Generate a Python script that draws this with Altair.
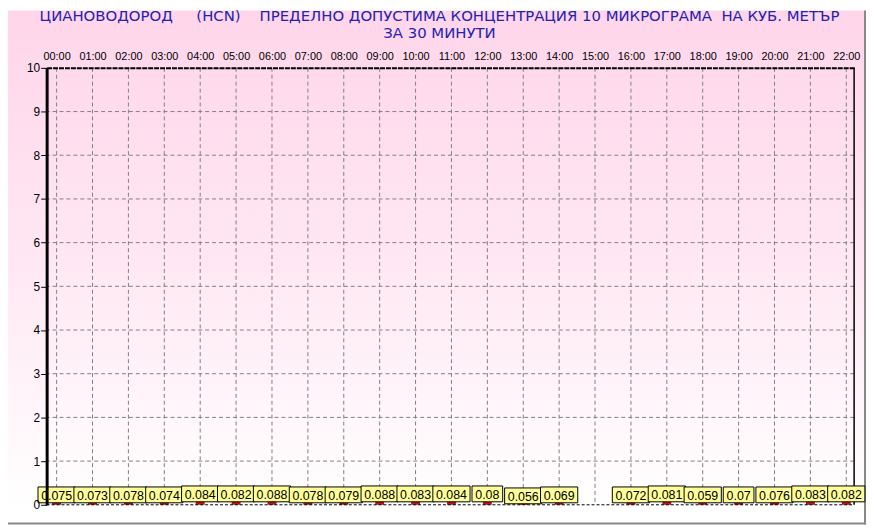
import altair as alt
import pandas as pd

# ---- data ----
hours = ["00:00", "01:00", "02:00", "03:00", "04:00", "05:00", "06:00", "07:00",
         "08:00", "09:00", "10:00", "11:00", "12:00", "13:00", "14:00", "15:00",
         "16:00", "17:00", "18:00", "19:00", "20:00", "21:00", "22:00"]
values = [0.075, 0.073, 0.078, 0.074, 0.084, 0.082, 0.088, 0.078, 0.079, 0.088,
          0.083, 0.084, 0.08, 0.056, 0.069, None, 0.072, 0.081, 0.059, 0.07,
          0.076, 0.083, 0.082]
y_ticks = list(range(0, 11))
grid_y = list(range(1, 10))

NB = "\u00a0"
title_lines = ["ЦИАНОВОДОРОД" + NB * 5 + "(HCN)" + NB * 4 +
               "ПРЕДЕЛНО ДОПУСТИМА КОНЦЕНТРАЦИЯ 10 МИКРОГРАМА" + NB * 2 + "НА КУБ. МЕТЪР",
               "ЗА 30 МИНУТИ"]

W, H = 815, 441
PAD_L, PAD_T, PAD_R, PAD_B = 39, 58, 12, 20
PX_PER_UNIT = H / 10.0
STEP = W / 22.22

df = pd.DataFrame({"idx": list(range(len(hours))), "hour": hours, "value": values})
df = df.dropna().copy()
df["label"] = [str(v) for v in df["value"]]

x_scale = alt.Scale(domain=[-0.14, 22.08], nice=False, zero=False)
y_scale = alt.Scale(domain=[0, 10], nice=False)

x_axis = alt.Axis(orient="top", values=list(range(len(hours))),
                  labelExpr="(datum.value < 10 ? '0' : '') + datum.value + ':00'",
                  title=None, grid=False, ticks=False, labelPadding=6,
                  labelOverlap=False, labelFlush=False,
                  labelFontSize=11, labelColor="#000000", labelFont="Liberation Sans",
                  domainColor="#000000", domainWidth=2, domainDash=[5, 1], zindex=1)
y_axis = alt.Axis(values=y_ticks, title=None, grid=False, tickSize=6,
                  tickColor="#000000", labelPadding=1, labelFontSize=12,
                  labelOverlap=False, labelFlush=False,
                  labelColor="#000000", labelFont="Liberation Sans",
                  domainColor="#000000", domainWidth=3, zindex=1)

one = pd.DataFrame({"a": [0]})

# background gradient (decoration, spans whole chart)
bg = alt.Chart(one).mark_rect(
    clip=False,
    fill=alt.Gradient(
        gradient="linear",
        stops=[alt.GradientStop(color="#ffd5ea", offset=0),
               alt.GradientStop(color="#ffe8f3", offset=0.5),
               alt.GradientStop(color="#ffffff", offset=0.97)],
        x1=0, x2=0, y1=0, y2=1),
).encode(
    x=alt.value(-PAD_L), x2=alt.value(W + PAD_R),
    y=alt.value(-PAD_T), y2=alt.value(H + PAD_B),
)

border_r = alt.Chart(one).mark_rule(clip=False, color="#888888", strokeWidth=2).encode(
    x=alt.value(W + PAD_R - 1), y=alt.value(-PAD_T), y2=alt.value(H + PAD_B))
border_b = alt.Chart(one).mark_rule(clip=False, color="#888888", strokeWidth=2).encode(
    y=alt.value(H + PAD_B - 1), x=alt.value(-PAD_L), x2=alt.value(W + PAD_R))

# plot frame: right side solid, bottom dashed
frame_r = alt.Chart(one).mark_rule(clip=False, color="#000000", strokeWidth=1.5).encode(
    x=alt.value(W), y=alt.value(0), y2=alt.value(H))
frame_b = alt.Chart(one).mark_rule(clip=False, color="#000000", strokeWidth=1,
                                   strokeDash=[3, 2]).encode(
    y=alt.value(H), x=alt.value(0), x2=alt.value(W))

# grid lines
vgrid = alt.Chart(pd.DataFrame({"g": list(range(len(hours)))})).mark_rule(
    color="#808080", strokeDash=[4, 3], strokeWidth=1
).encode(x=alt.X("g:Q", scale=x_scale, axis=x_axis))
hgrid = alt.Chart(pd.DataFrame({"g": grid_y})).mark_rule(
    color="#808080", strokeDash=[4, 3], strokeWidth=1
).encode(y=alt.Y("g:Q", scale=y_scale, axis=y_axis))

base = alt.Chart(df)

bars = base.mark_bar(color="#b81818", size=9).encode(
    x=alt.X("idx:Q", scale=x_scale, axis=x_axis),
    y=alt.Y("value:Q", scale=y_scale, axis=y_axis),
)

boxes_src = base.transform_calculate(
    hw=f"((length(datum.label) - 1) * 6.67 + 3.34 + 8) / 2 / {STEP}",
    lo=f"(round(datum.value * {PX_PER_UNIT}) - 1) / {PX_PER_UNIT}",
).transform_calculate(
    x1="datum.idx - datum.hw", x2="datum.idx + datum.hw",
    hi=f"datum.lo + 16 / {PX_PER_UNIT}",
).transform_calculate(mid="(datum.lo + datum.hi) / 2")

boxes = boxes_src.mark_rect(fill="#ffff99", stroke="#000000", strokeWidth=1, clip=False).encode(
    x=alt.X("x1:Q", scale=x_scale, axis=x_axis), x2="x2:Q",
    y=alt.Y("lo:Q", scale=y_scale, axis=y_axis), y2="hi:Q",
)
texts = boxes_src.mark_text(fontSize=12.5, font="Liberation Sans", color="#000000",
                            baseline="middle", align="center", dy=1, clip=False).encode(
    x=alt.X("idx:Q", scale=x_scale, axis=x_axis),
    y=alt.Y("mid:Q", scale=y_scale, axis=y_axis),
    text="label:N",
)

chart = alt.layer(bg, border_r, border_b, vgrid, hgrid, bars, frame_r, frame_b,
                  boxes, texts).properties(
    width=W, height=H,
    autosize=alt.AutoSizeParams(type="none"),
    padding={"left": PAD_L, "top": PAD_T, "right": PAD_R, "bottom": PAD_B},
    background="#ffffff",
    title=alt.TitleParams(text=title_lines, anchor="middle", fontSize=15,
                          font="DejaVu Sans, sans-serif",
                          fontWeight="normal", color="#2323b0", dx=-11, offset=0,
                          dy=32, lineHeight=17),
).configure_view(stroke=None)

chart.save("out.html", embed_options={"renderer": "svg", "actions": False})
